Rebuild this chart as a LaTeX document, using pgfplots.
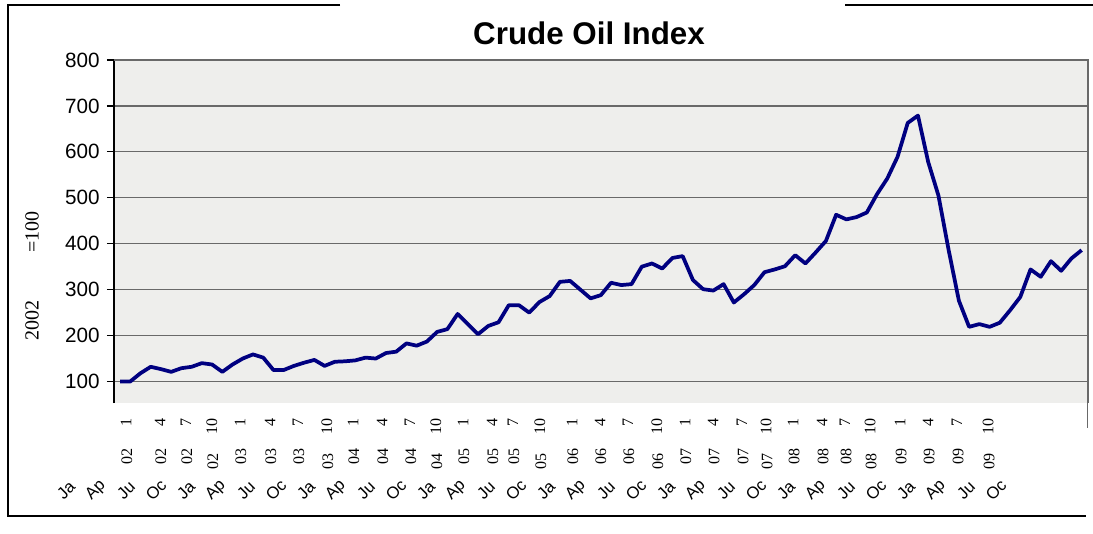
\documentclass[border=0pt]{standalone}
\usepackage{fontspec}
\setmainfont{Liberation Sans}
\newfontfamily\timesf{Liberation Serif}
\usepackage{pgfplots}
\pgfplotsset{compat=1.18}
\definecolor{navyline}{RGB}{0,0,128}
\definecolor{bgtex}{RGB}{238,238,236}
\definecolor{gridc}{RGB}{105,105,105}

\pgfplotstableread{
x y
0 100
1 100
2 118
3 132
4 127
5 121
6 129
7 132
8 140
9 137
10 121
11 137
12 150
13 159
14 152
15 125
16 125
17 134
18 141
19 147
20 134
21 143
22 144
23 146
24 152
25 150
26 162
27 165
28 183
29 178
30 187
31 208
32 214
33 247
34 225
35 203
36 221
37 229
38 266
39 266
40 250
41 273
42 286
43 317
44 319
45 300
46 281
47 288
48 315
49 310
50 312
51 350
52 357
53 346
54 369
55 373
56 321
57 301
58 298
59 312
60 272
61 290
62 310
63 338
64 344
65 351
66 375
67 357
68 381
69 406
70 463
71 453
72 458
73 468
74 508
75 542
76 589
77 663
78 679
79 578
80 505
81 386
82 276
83 219
84 225
85 219
86 228
87 255
88 284
89 344
90 328
91 362
92 341
93 368
94 386
}\oil

\begin{document}
\begin{tikzpicture}
\useasboundingbox (0,0) rectangle (819.75pt,399.75pt);
\begin{axis}[
  at={(85.5pt,97.5pt)}, anchor=south west,
  width=730.5pt, height=257.25pt, scale only axis,
  xmin=-0.587, xmax=94.62, ymin=53.2, ymax=800,
  axis x line=none, axis y line*=left,
  y axis line style={black, line width=1pt},
  ytick={100,200,300,400,500,600,700,800},
  tick align=outside, major tick length=5.25pt,
  tick style={black, line width=0.9pt},
  ymajorgrids, grid style={gridc, line width=0.9pt},
  axis background/.style={fill=bgtex},
  yticklabel style={font=\fontsize{15.5}{18}\selectfont, xshift=-2pt},
  /pgf/number format/assume math mode=true,
  clip=false,
]
\addplot[navyline, line width=2.8pt, line join=round] table[x=x, y=y] {\oil};
\draw[gridc, line width=0.9pt] (rel axis cs:0,1) -- (rel axis cs:1,1) -- (rel axis cs:1,0);
\end{axis}
\begin{scope}[x=0.75pt, y=0.75pt]
  % outer frame
  \draw[black, line width=1.2pt] (340,528) -- (8,528) -- (8,17) -- (1086,17);
  \draw[black, line width=1.2pt] (845,528) -- (1093,528);
  \draw[gridc, line width=1pt] (1087.5,130) -- (1087.5,105);
  % title
  \node[anchor=base, inner sep=0pt, font=\bfseries\fontsize{23.5}{28}\selectfont] at (589,488) {Crude Oil Index};
  % y label
  \node[rotate=90, anchor=west, inner sep=0pt, font=\timesf\fontsize{15}{18}\selectfont] at (32,192) {2002\hspace{36pt}=100};
  % month row
  \foreach \px/\m/\yy in {126/1/02,160/4/02,186/7/02,240/1/03,270/4/03,298/7/03,353/1/04,382/4/04,410/7/04,463/1/05,492/4/05,513/7/05,572/1/06,600/4/06,628/7/06,685/1/07,713/4/07,742/7/07,793/1/08,822/4/08,845/7/08,900/1/09,928/4/09,957/7/09}{
    \node[rotate=90, anchor=east, inner sep=0pt, font=\timesf\fontsize{12}{14}\selectfont] at (\px,115) {\m};
    \node[rotate=90, anchor=east, inner sep=0pt, font=\timesf\fontsize{12}{14}\selectfont] at (\px+1,85) {\yy};
  }
  \foreach \px/\yy in {212/02,327/03,436/04,540/05,657/06,766/07,870/08,988/09}{
    \node[rotate=90, anchor=east, inner sep=0pt, font=\timesf\fontsize{12}{14}\selectfont] at (\px,115) {10};
    \node[rotate=90, anchor=east, inner sep=0pt, font=\timesf\fontsize{12}{14}\selectfont] at (\px+1,80) {\yy};
  }
  % clipped month names row
  \foreach \px/\t in {66/Ja,96/Ap,126/Ju,156/Oc,186/Ja,216/Ap,246/Ju,276/Oc,306/Ja,336/Ap,366/Ju,396/Oc,426/Ja,456/Ap,486/Ju,516/Oc,546/Ja,576/Ap,606/Ju,636/Oc,666/Ja,696/Ap,726/Ju,756/Oc,786/Ja,816/Ap,846/Ju,876/Oc,906/Ja,936/Ap,966/Ju,996/Oc}{
    \node[rotate=45, inner sep=0pt, font=\fontsize{12.5}{15}\selectfont] at (\px,43) {\t};
  }
\end{scope}
\end{tikzpicture}
\end{document}
